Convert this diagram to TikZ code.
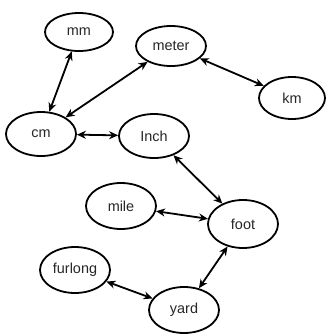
\documentclass[tikz,border=0pt]{standalone}
\usepackage{fontspec}
\setmainfont{Liberation Sans}
\usetikzlibrary{shapes.geometric,arrows.meta}
\begin{document}
\begin{tikzpicture}[x=1bp,y=-1bp,
  unit/.style={ellipse,draw=black,line width=1.8bp,minimum width=70bp,minimum height=44bp,inner sep=0pt,font=\fontsize{14.5}{16}\selectfont,text=black!85},
  conn/.style={{Stealth[length=9bp,width=8bp]}-{Stealth[length=9bp,width=8bp]},line width=1.8bp}]
\useasboundingbox (0,0) rectangle (326,335);
\node[unit,minimum width=68bp,minimum height=38bp] (mm) at (79,32) {mm};
\node[unit,minimum height=40bp] (meter) at (171,46) {meter};
\node[unit,minimum width=66bp,minimum height=42bp] (km) at (292,98) {km};
\node[unit] (cm) at (41,134) {cm};
\node[unit] (inch) at (154,136) {Inch};
\node[unit,minimum height=46bp] (mile) at (121,206) {mile};
\node[unit,minimum height=48bp] (foot) at (243,224) {foot};
\node[unit,minimum height=46bp] (furlong) at (75,270) {furlong};
\node[unit,minimum height=46bp] (yard) at (184,310) {yard};
\draw[conn] (mm) -- (cm);
\draw[conn] (meter) -- (cm);
\draw[conn] (meter) -- (km);
\draw[conn] (cm) -- (inch);
\draw[conn] (inch) -- (foot);
\draw[conn] (mile) -- (foot);
\draw[conn] (foot) -- (yard);
\draw[conn] (furlong) -- (yard);
\end{tikzpicture}
\end{document}
